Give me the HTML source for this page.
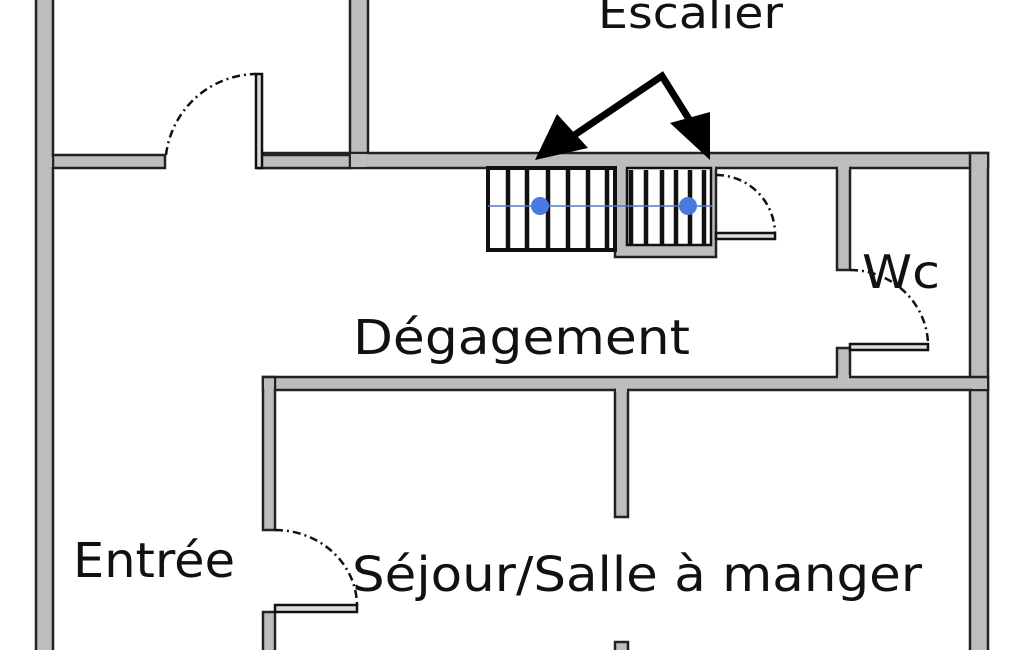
<!DOCTYPE html>
<html><head><meta charset="utf-8"><style>
html,body{margin:0;padding:0;background:#fff;}
svg{display:block;}
text{font-family:"DejaVu Sans","Liberation Sans",sans-serif;fill:#111;}
</style></head><body>
<svg width="1025" height="650" viewBox="0 0 1025 650">
<g fill="#bdbdbd" stroke="#222" stroke-width="2.5">
<rect x="36" y="-5" width="17" height="660"/>
<rect x="350" y="-5" width="18" height="160"/>
<rect x="53" y="155" width="112" height="13"/>
<rect x="258" y="153" width="730" height="15"/>
<rect x="258" y="155" width="92" height="13"/>
<rect x="970" y="153" width="18" height="505"/>
<rect x="837" y="168" width="13" height="102"/>
<rect x="837" y="348" width="13" height="30"/>
<rect x="263" y="377" width="725" height="13"/>
<rect x="263" y="377" width="12" height="153"/>
<rect x="263" y="612" width="12" height="45"/>
<rect x="615" y="390" width="13" height="127"/>
<rect x="615" y="642" width="13" height="15"/>
<rect x="615" y="168" width="101" height="89"/>
</g>
<g fill="#bdbdbd">
<rect x="38" y="157" width="14" height="10"/>
<rect x="351" y="154" width="16" height="13"/>
<rect x="972" y="155" width="15" height="12"/>
<rect x="838" y="166" width="11" height="4"/>
<rect x="838" y="375" width="11" height="4"/>
<rect x="972" y="379" width="15" height="10"/>
<rect x="264" y="379" width="10" height="10"/>
<rect x="616" y="388" width="11" height="4"/>
<rect x="616" y="166" width="99" height="4"/>
</g>
<rect x="627" y="168" width="84" height="77" fill="#fff" stroke="#111" stroke-width="2.5"/>
<rect x="488" y="168" width="127" height="82" fill="#fff" stroke="#111" stroke-width="4"/>
<g stroke="#111" stroke-width="4.5">
<line x1="508" y1="168" x2="508" y2="250"/><line x1="527" y1="168" x2="527" y2="250"/>
<line x1="548" y1="168" x2="548" y2="250"/><line x1="568" y1="168" x2="568" y2="250"/>
<line x1="588" y1="168" x2="588" y2="250"/><line x1="607" y1="168" x2="607" y2="250"/>
<line x1="631" y1="170" x2="631" y2="244"/><line x1="646" y1="170" x2="646" y2="244"/>
<line x1="662" y1="170" x2="662" y2="244"/><line x1="676" y1="170" x2="676" y2="244"/>
<line x1="690" y1="170" x2="690" y2="244"/><line x1="704" y1="170" x2="704" y2="244"/>
</g>
<line x1="488" y1="206" x2="712" y2="206" stroke="#5577cc" stroke-width="1.5"/>
<ellipse cx="540" cy="206" rx="9" ry="9" fill="#4a7ae0"/>
<ellipse cx="688" cy="206" rx="9" ry="9" fill="#4a7ae0"/>
<g fill="#ddd" stroke="#111" stroke-width="2.5">
<rect x="256" y="74" width="6" height="94"/>
<rect x="716" y="233" width="59" height="6"/>
<rect x="850" y="344" width="78" height="6"/>
<rect x="275" y="605" width="82" height="7"/>
</g>
<g fill="none" stroke="#111" stroke-width="2.5" stroke-dasharray="8,4,2,4">
<path d="M166 155 A92 92 0 0 1 256 74"/>
<path d="M716 175 A59 59 0 0 1 775 233"/>
<path d="M850 270 A78 76 0 0 1 928 344"/>
<path d="M275 530 A82 76 0 0 1 357 605"/>
</g>
<g stroke="#000" stroke-width="7" fill="none" stroke-linejoin="miter">
<polyline points="570,138 662,76 697,132"/>
</g>
<polygon points="535,160 557,114 588,148" fill="#000"/>
<polygon points="710,160 670,123 710,112" fill="#000"/>
<text x="598" y="28" font-size="44" textLength="185" lengthAdjust="spacingAndGlyphs">Escalier</text>
<text x="110" y="-3" font-size="44" textLength="175" lengthAdjust="spacingAndGlyphs">Cuisine</text>
<text x="353" y="354" font-size="48" textLength="337" lengthAdjust="spacingAndGlyphs">Dégagement</text>
<text x="862" y="288" font-size="46" textLength="78" lengthAdjust="spacingAndGlyphs">Wc</text>
<text x="73" y="577" font-size="48" textLength="162" lengthAdjust="spacingAndGlyphs">Entrée</text>
<text x="352" y="591" font-size="48" textLength="570" lengthAdjust="spacingAndGlyphs">Séjour/Salle à manger</text>
</svg>
</body></html>
